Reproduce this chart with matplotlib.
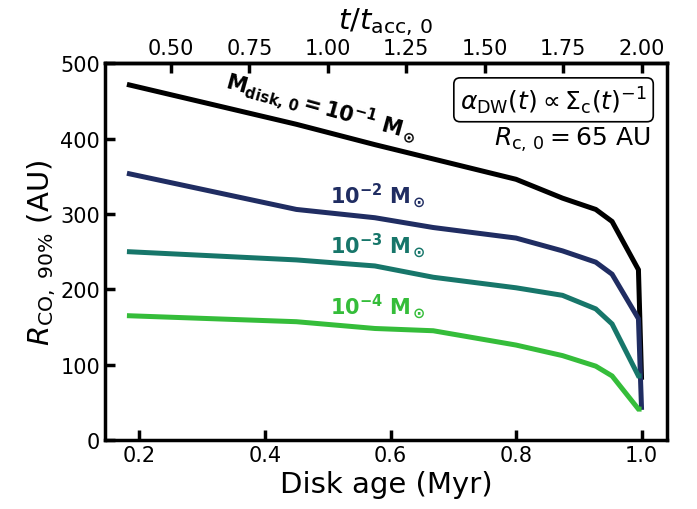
import matplotlib
matplotlib.use("Agg")
import matplotlib.pyplot as plt

# Data
age = [0.18, 0.45, 0.575, 0.668, 0.80, 0.874, 0.927, 0.953, 0.995, 1.0]
r_m1 = [472, 419, 392, 373, 346, 321, 306, 290, 226, 80]
r_m2 = [354, 306, 295, 282, 268, 251, 236, 220, 161, 40]
r_m3 = [250, 239, 231, 216, 202, 192, 174, 154, 85, 85]
r_m4 = [165, 157, 148, 145, 126, 112, 98, 85, 41, 41]

series = [r_m1, r_m2, r_m3, r_m4]
colors = ["#000000", "#202d62", "#17766a", "#35bd3a"]
labels = [r"$\mathbf{M_{disk,\,0} = 10^{-1}\ M_\odot}$",
          r"$\mathbf{10^{-2}\ M_\odot}$",
          r"$\mathbf{10^{-3}\ M_\odot}$",
          r"$\mathbf{10^{-4}\ M_\odot}$"]

fig = plt.figure(figsize=(6.97, 5.10), dpi=100)
ax = fig.add_axes([0.1506, 0.1353, 0.8059, 0.7387])

for y, c in zip(series, colors):
    ax.plot(age, y, color=c, lw=3.6, solid_capstyle="butt", solid_joinstyle="miter")

ax.set_xlim(0.145, 1.04)
ax.set_ylim(0, 500)
ax.set_xticks([0.2, 0.4, 0.6, 0.8, 1.0])
ax.set_yticks([0, 100, 200, 300, 400, 500])
ax.tick_params(labelsize=15, width=2.5, length=7, direction="in")
for s in ax.spines.values():
    s.set_linewidth(2.5)

ax.set_xlabel("Disk age (Myr)", fontsize=21, labelpad=4)
ax.set_ylabel(r"$R_{\rm CO,\ 90\%}$ (AU)", fontsize=21, labelpad=2)

sec = ax.secondary_xaxis("top", functions=(lambda x: 2 * x, lambda x: x / 2))
sec.set_xticks([0.5, 0.75, 1.0, 1.25, 1.5, 1.75, 2.0])
sec.set_xticklabels(["0.50", "0.75", "1.00", "1.25", "1.50", "1.75", "2.00"])
sec.tick_params(labelsize=15, width=2.5, length=7, direction="in")
sec.set_xlabel(r"$t/t_{\rm acc,\,0}$", fontsize=21, labelpad=7)
for s in sec.spines.values():
    s.set_linewidth(2.5)

ax.text(0.49, 442, labels[0], color=colors[0], fontsize=15, rotation=-15.5,
        ha="center", va="center", rotation_mode="anchor")
ax.text(0.58, 325, labels[1], color=colors[1], fontsize=15, ha="center", va="center")
ax.text(0.58, 259, labels[2], color=colors[2], fontsize=15, ha="center", va="center")
ax.text(0.58, 178, labels[3], color=colors[3], fontsize=15, ha="center", va="center")

ax.text(0.965, 0.903, r"$\alpha_{\rm DW}(t) \propto \Sigma_{\rm c}(t)^{-1}$",
        transform=ax.transAxes, fontsize=18, ha="right", va="center",
        bbox=dict(boxstyle="round,pad=0.25", fc="white", ec="black", lw=1.2))
ax.text(0.97, 0.80, r"$R_{\rm c,\,0} = 65$ AU", transform=ax.transAxes,
        fontsize=18, ha="right", va="center")

fig.savefig("out.png", dpi=100)
